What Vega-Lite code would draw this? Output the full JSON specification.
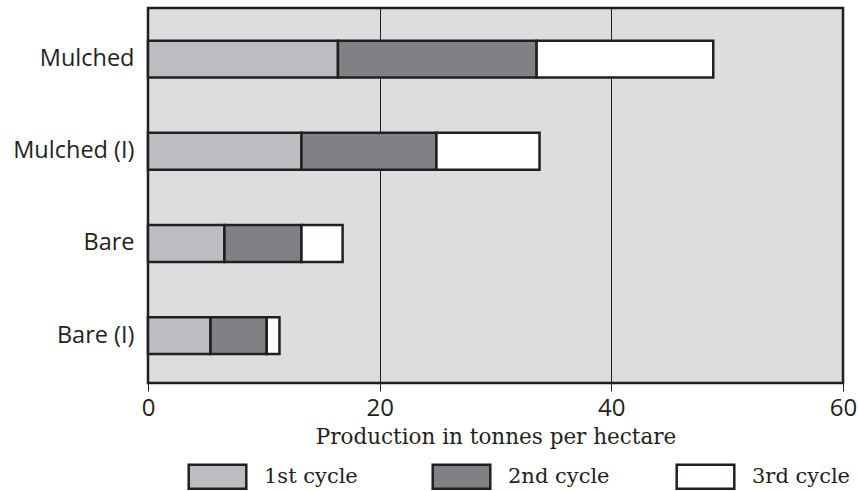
{
  "$schema": "https://vega.github.io/schema/vega-lite/v6.json",
  "width": 695,
  "height": 375,
  "autosize": "none",
  "padding": {"left": 148, "top": 8, "right": 15, "bottom": 108},
  "background": "white",
  "data": {
    "values": [
      {"plot": "Mulched", "cycle": "1st cycle", "value": 16.4},
      {"plot": "Mulched", "cycle": "2nd cycle", "value": 17.15},
      {"plot": "Mulched", "cycle": "3rd cycle", "value": 15.25},
      {"plot": "Mulched (I)", "cycle": "1st cycle", "value": 13.25},
      {"plot": "Mulched (I)", "cycle": "2nd cycle", "value": 11.65},
      {"plot": "Mulched (I)", "cycle": "3rd cycle", "value": 8.9},
      {"plot": "Bare", "cycle": "1st cycle", "value": 6.6},
      {"plot": "Bare", "cycle": "2nd cycle", "value": 6.65},
      {"plot": "Bare", "cycle": "3rd cycle", "value": 3.55},
      {"plot": "Bare (I)", "cycle": "1st cycle", "value": 5.4},
      {"plot": "Bare (I)", "cycle": "2nd cycle", "value": 4.85},
      {"plot": "Bare (I)", "cycle": "3rd cycle", "value": 1.1}
    ]
  },
  "mark": {"type": "bar", "stroke": "#231f20", "strokeWidth": 2.5},
  "encoding": {
    "y": {
      "field": "plot",
      "type": "nominal",
      "sort": ["Mulched", "Mulched (I)", "Bare", "Bare (I)"],
      "scale": {"paddingInner": 0.6, "paddingOuter": 0.334, "align": 0.53},
      "axis": {
        "title": null,
        "ticks": false,
        "domain": false,
        "labelFont": "Open Sans",
        "labelFontSize": 23.5,
        "labelColor": "#231f20",
        "labelPadding": 14
      }
    },
    "x": {
      "field": "value",
      "type": "quantitative",
      "stack": "zero",
      "scale": {"domain": [0, 60], "nice": false},
      "axis": {
        "values": [0, 20, 40, 60],
        "title": "Production in tonnes per hectare",
        "grid": true,
        "gridColor": "#231f20",
        "gridWidth": 1,
        "gridOpacity": 1,
        "tickColor": "#231f20",
        "tickSize": 8,
        "tickWidth": 1,
        "domain": false,
        "labelFlush": false,
        "labelFont": "Open Sans",
        "labelFontSize": 24,
        "labelColor": "#231f20",
        "labelPadding": 5,
        "titleFont": "DejaVu Serif",
        "titleFontSize": 21.5,
        "titleFontWeight": "normal",
        "titleColor": "#231f20",
        "titlePadding": 6
      }
    },
    "color": {
      "field": "cycle",
      "type": "nominal",
      "scale": {
        "domain": ["1st cycle", "2nd cycle", "3rd cycle"],
        "range": ["#bcbdc0", "#808184", "#ffffff"]
      },
      "legend": {
        "orient": "none",
        "legendX": 56,
        "legendY": 455,
        "direction": "horizontal",
        "gridAlign": "all",
        "title": null,
        "symbolType": "M-2.4,-1L2.4,-1L2.4,1L-2.4,1Z",
        "symbolSize": 576,
        "symbolStrokeColor": "#231f20",
        "symbolStrokeWidth": 2.5,
        "symbolOpacity": 1,
        "labelFont": "DejaVu Serif",
        "labelFontSize": 21,
        "labelColor": "#231f20",
        "labelOffset": 33,
        "columnPadding": 61
      }
    },
    "order": {"field": "cycle", "sort": "ascending"}
  },
  "config": {
    "view": {"fill": "#dcdddf", "stroke": "#231f20", "strokeWidth": 2.5}
  }
}
